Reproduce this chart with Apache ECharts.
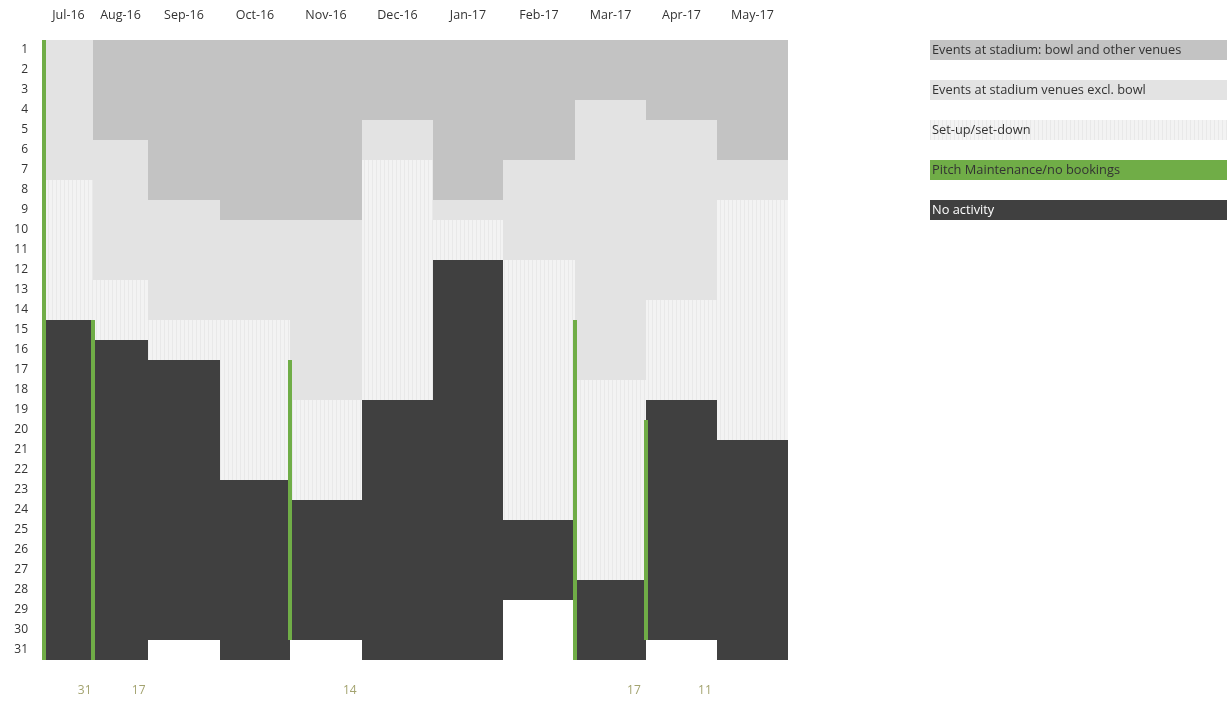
<!DOCTYPE html>
<html>
<head>
<meta charset="utf-8">
<script src="https://cdn.jsdelivr.net/npm/echarts@6/dist/echarts.min.js"></script>
<style>
  html, body { margin: 0; padding: 0; background: #fff; }
  #chart { width: 1227px; height: 703px; }
</style>
</head>
<body>
<div id="chart"></div>
<script>
// ---------- DATA ----------
const months = ['Jul-16','Aug-16','Sep-16','Oct-16','Nov-16','Dec-16','Jan-17','Feb-17','Mar-17','Apr-17','May-17'];
const dayLabels = ['1','2','3','4','5','6','7','8','9','10','11','12','13','14','15','16','17','18','19','20','21','22','23','24','25','26','27','28','29','30','31'];
const daysInMonth = [31,31,30,31,30,31,31,28,31,30,31];
const seriesNames = ['Events at stadium: bowl and other venues','Events at stadium venues excl. bowl','Set-up/set-down','Pitch Maintenance/no bookings','No activity'];
// days per category, stacked from day 1 downward
const eventsBowl      = [0, 5, 8, 9, 9, 4, 8, 6, 3, 4, 6];
const eventsExclBowl  = [7, 7, 6, 5, 9, 2, 1, 5,14, 9, 2];
const setupSetdown    = [7, 3, 2, 8, 5,12, 2,13,10, 5,12];
const noActivity      = [17,16,14,9, 7,13,20, 4, 4,12,11];
// pitch maintenance days (last N days of the month)
const pitchMaintenance = [31,17, 0, 0,14, 0, 0, 0,17,11, 0];

// ---------- LAYOUT / STYLE ----------
const colWidths = [49,55,72,70,72,71,70,72,71,71,71];
const labelFrac = 0.83;
const totalW = colWidths.reduce((a,b)=>a+b,0);
const colStart = [];
colWidths.reduce((acc,w,i)=>{ colStart[i]=acc; return acc+w; }, 0);

// setup pattern
const pc = document.createElement('canvas');
pc.width = 4; pc.height = 4;
const pctx = pc.getContext('2d');
pctx.fillStyle = '#f3f3f3'; pctx.fillRect(0,0,4,4);
pctx.fillStyle = '#e9e9e9'; pctx.fillRect(0,0,1,4);
const setupFill = { image: pc, repeat: 'repeat' };

const catFills = ['#c3c3c3', '#e3e3e3', setupFill, '#70ad47', '#404040'];
const legendText = ['#333','#333','#333','#333','#ffffff'];

// ---------- BUILD ----------
const cells = [];
const stacks = [eventsBowl, eventsExclBowl, setupSetdown, noActivity];
const stackCat = [0, 1, 2, 4];
months.forEach((m, i) => {
  let d = 0;
  stacks.forEach((arr, k) => {
    const n = arr[i];
    if (n > 0) {
      cells.push([colStart[i], colStart[i] + colWidths[i], d, d + n, stackCat[k]]);
      d += n;
    }
  });
});
const pitchLines = [];
const pitchLabels = [];
months.forEach((m, i) => {
  const n = pitchMaintenance[i];
  if (n > 0) {
    pitchLines.push([colStart[i], daysInMonth[i] - n, daysInMonth[i]]);
    pitchLabels.push([colStart[i] + colWidths[i] * labelFrac, 31, n]);
  }
});
const colCenters = colStart.map((s,i)=> s + colWidths[i]/2);

const FONT = 'Open Sans';
const chart = echarts.init(document.getElementById('chart'));
const legendGraphics = [];
seriesNames.forEach((name, i) => {
  legendGraphics.push({
    type: 'rect', left: 930, top: 40 + i*40,
    shape: { width: 300, height: 20 },
    style: { fill: catFills[i] }
  });
  legendGraphics.push({
    type: 'text', x: 932, y: 50 + i*40,
    style: { text: name, fill: legendText[i], font: '12.8px ' + FONT, verticalAlign: 'middle', align: 'left' }
  });
});

chart.setOption({
  animation: false,
  grid: { left: 44, top: 40, width: totalW, height: 620 },
  xAxis: [{
    type: 'value', min: 0, max: totalW, position: 'top',
    axisLine: { show: false }, axisTick: { show: false }, splitLine: { show: false },
    axisLabel: {
      customValues: colCenters, margin: 18,
      color: '#333', fontFamily: FONT, fontSize: 12.5,
      formatter: (v) => { const i = colCenters.findIndex(c => Math.abs(c - v) < 0.01); return i >= 0 ? months[i] : ''; }
    }
  }],
  yAxis: [{
    type: 'value', min: 0, max: 31, inverse: true, show: false
  }, {
    type: 'category', data: dayLabels, inverse: true, position: 'left',
    axisLine: { show: false }, axisTick: { show: false }, splitLine: { show: false },
    axisLabel: { color: '#333', fontFamily: FONT, fontSize: 12, margin: 16 }
  }],
  graphic: legendGraphics,
  series: [{
    type: 'custom', xAxisIndex: 0, yAxisIndex: 0, data: cells,
    renderItem: (params, api) => {
      const p0 = api.coord([api.value(0), api.value(2)]);
      const p1 = api.coord([api.value(1), api.value(3)]);
      return { type: 'rect', shape: { x: p0[0], y: p0[1], width: p1[0]-p0[0], height: p1[1]-p0[1] },
               style: { fill: catFills[api.value(4)] } };
    }
  }, {
    type: 'custom', xAxisIndex: 0, yAxisIndex: 0, data: pitchLines, clip: false,
    renderItem: (params, api) => {
      const p0 = api.coord([api.value(0), api.value(1)]);
      const p1 = api.coord([api.value(0), api.value(2)]);
      return { type: 'rect', shape: { x: p0[0]-2, y: p0[1], width: 4, height: p1[1]-p0[1] },
               style: { fill: catFills[3] } };
    }
  }, {
    type: 'custom', xAxisIndex: 0, yAxisIndex: 0, data: pitchLabels, clip: false,
    renderItem: (params, api) => {
      const p = api.coord([api.value(0), api.value(1)]);
      return { type: 'text', x: p[0], y: p[1] + 31,
               style: { text: String(api.value(2)), fill: '#a3a36f', font: '12px ' + FONT, align: 'center', verticalAlign: 'middle' } };
    }
  }]
});
</script>
</body>
</html>
